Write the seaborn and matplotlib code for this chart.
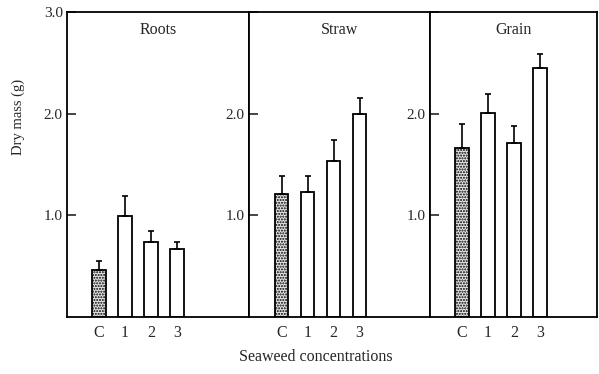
import matplotlib
matplotlib.use("Agg")
import matplotlib.pyplot as plt
import seaborn as sns
import pandas as pd

sns.set_style("white")
plt.rcParams['font.family'] = ['Liberation Serif', 'DejaVu Serif']

categories = ["C", "1", "2", "3"]
panels = ["Roots", "Straw", "Grain"]
roots_mean = [0.46, 0.99, 0.74, 0.67]
roots_err = [0.09, 0.20, 0.11, 0.07]
straw_mean = [1.21, 1.23, 1.53, 2.00]
straw_err = [0.18, 0.16, 0.21, 0.15]
grain_mean = [1.66, 2.01, 1.71, 2.45]
grain_err = [0.24, 0.18, 0.17, 0.14]
yticks = [1.0, 2.0, 3.0]
ytick_labels = ["1.0", "2.0", "3.0"]

means = [roots_mean, straw_mean, grain_mean]
errs = [roots_err, straw_err, grain_err]
xlims = [(-1.23, 5.77), (-1.25, 5.7), (-1.23, 5.2)]

fig = plt.figure(figsize=(5.99, 3.74), dpi=100)
gs = fig.add_gridspec(1, 3, width_ratios=[182, 181, 167], wspace=0,
                      left=67/599, right=597/599, bottom=1-317/374, top=1-12/374)
axes = [fig.add_subplot(gs[0, i]) for i in range(3)]

for i, ax in enumerate(axes):
    df = pd.DataFrame({"cat": categories, "val": means[i]})
    sns.barplot(data=df, x="cat", y="val", ax=ax, color="white",
                edgecolor="black", linewidth=1.3, width=0.52, saturation=1)
    for j, p in enumerate(ax.patches):
        if j == 0:
            p.set_hatch("......")
            p.set_facecolor("#e6e6e6")
    ax.errorbar(range(len(categories)), means[i],
                yerr=[[0]*len(categories), errs[i]], fmt="none",
                ecolor="black", elinewidth=1.2, capsize=2.5, capthick=1.2)
    ax.set_xlim(*xlims[i])
    ax.set_ylim(0, 3.0)
    ax.set_xlabel("")
    ax.set_ylabel("")
    ax.set_yticks(yticks)
    if i == 0:
        ax.set_yticklabels(ytick_labels)
    else:
        ax.set_yticklabels(ytick_labels[:2] + [""])
    ax.tick_params(axis="y", direction="in", length=6.5, width=1.2,
                   labelsize=11, pad=3, left=True)
    ax.tick_params(axis="x", length=0, labelsize=11.5, pad=6)
    for s in ax.spines.values():
        s.set_visible(True)
        s.set_linewidth(1.3)
        s.set_color("black")
    ax.text(0.5, 0.94, panels[i], transform=ax.transAxes, ha="center",
            va="center", fontsize=11.5)

plt.rcParams['hatch.linewidth'] = 0.6
fig.text(316/599, 1-357/374, "Seaweed concentrations", ha="center",
         va="center", fontsize=11.5)
fig.text(18/599, 1-117/374, "Dry mass (g)", rotation=90, ha="center",
         va="center", fontsize=10.5)

fig.savefig("out.png", dpi=100)
